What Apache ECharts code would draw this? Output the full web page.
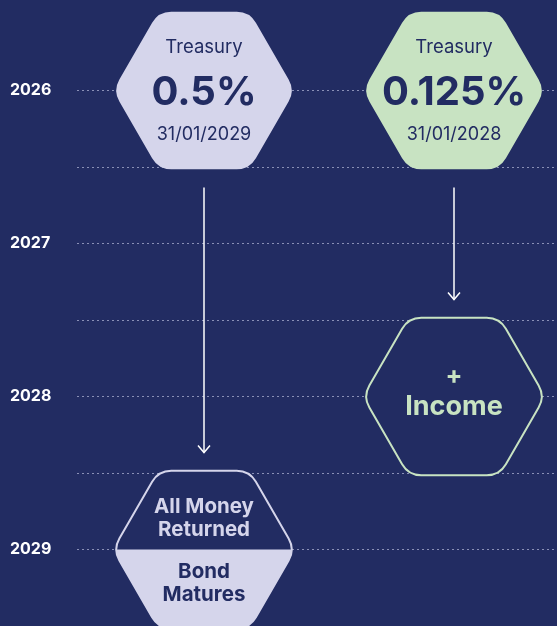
<!DOCTYPE html>
<html>
<head>
<meta charset="utf-8">
<script src="https://cdn.jsdelivr.net/npm/echarts@6/dist/echarts.min.js"></script>
<style>
  html, body { margin: 0; padding: 0; background: #222c62; }
  #chart { width: 557px; height: 626px; }
</style>
</head>
<body>
<div id="chart"></div>
<script>
// timeline data
const yearTicks = [2026, 2027, 2028, 2029];
const columns = [1, 2];
const bondNames = ["Treasury", "Treasury"];
const bondCoupons = ["0.5%", "0.125%"];
const bondMaturities = ["31/01/2029", "31/01/2028"];
const purchaseYears = [2026, 2026];
const outcomeYears = [2029, 2028];
const outcomeTop = [["All Money", "Returned"], ["+", "Income"]];
const outcomeBottom = [["Bond", "Matures"], []];

const NAVY = "#222c62";
const LAVENDER = "#d5d5eb";
const GREEN = "#c8e3c2";
const FONT = "Inter";
const R = 91;       // hexagon radius, px
const ROUND = 0.14; // corner rounding

function lerp(a, b, s) {
  return [a[0] + (b[0] - a[0]) * s, a[1] + (b[1] - a[1]) * s];
}

function hexPoints(cx, cy) {
  let V = [];
  for (let k = 0; k < 6; k++) {
    V.push([cx + R * Math.cos(k * Math.PI / 3), cy + R * Math.sin(k * Math.PI / 3)]);
  }
  let Pa = V.map((v, k) => lerp(v, V[(k + 5) % 6], ROUND));
  let Pb = V.map((v, k) => lerp(v, V[(k + 1) % 6], ROUND));
  return { V, Pa, Pb };
}

function pt(p) {
  return p[0].toFixed(2) + " " + p[1].toFixed(2);
}

function hexPath(cx, cy) {
  const { V, Pa, Pb } = hexPoints(cx, cy);
  let d = "M" + pt(Pb[0]);
  [1, 2, 3, 4, 5, 0].forEach(k => {
    d += " L" + pt(Pa[k]) + " Q" + pt(V[k]) + " " + pt(Pb[k]);
  });
  return d + " Z";
}

// lower half of the hexagon (below the horizontal centre line)
function lowerHalfPath(cx, cy) {
  const { V, Pa, Pb } = hexPoints(cx, cy);
  let mid0 = [0.25 * Pa[0][0] + 0.5 * V[0][0] + 0.25 * Pb[0][0], cy];
  let mid3 = [0.25 * Pa[3][0] + 0.5 * V[3][0] + 0.25 * Pb[3][0], cy];
  let d = "M" + pt(mid0) + " Q" + pt(lerp(V[0], Pb[0], 0.5)) + " " + pt(Pb[0]);
  [1, 2].forEach(k => {
    d += " L" + pt(Pa[k]) + " Q" + pt(V[k]) + " " + pt(Pb[k]);
  });
  d += " L" + pt(Pa[3]) + " Q" + pt(lerp(Pa[3], V[3], 0.5)) + " " + pt(mid3);
  return d + " Z";
}

function label(text, x, y, size, weight, color) {
  return {
    type: "text",
    x: x,
    y: y,
    style: {
      text: text,
      fill: color,
      fontSize: size,
      fontWeight: weight,
      fontFamily: FONT,
      align: "center",
      verticalAlign: "middle"
    }
  };
}

const chart = echarts.init(document.getElementById("chart"));

chart.setOption({
  backgroundColor: NAVY,
  animation: false,
  grid: { left: 77, right: 0, top: 14, bottom: -1 },
  xAxis: { type: "value", min: 0.492, max: 2.412, show: false },
  yAxis: {
    type: "value",
    inverse: true,
    min: 2025.5,
    max: 2029.5,
    interval: 0.5,
    axisLine: { show: false },
    axisTick: { show: false },
    axisLabel: {
      align: "left",
      margin: 67,
      color: "#ffffff",
      fontSize: 16,
      fontWeight: "bold",
      fontFamily: FONT,
      formatter: v => (yearTicks.indexOf(v) >= 0 ? String(v) : "")
    },
    splitLine: {
      show: true,
      showMinLine: false,
      showMaxLine: false,
      lineStyle: { color: "#8a90b6", width: 1, type: [2, 3] }
    }
  },
  series: [
    {
      name: "bonds",
      type: "custom",
      data: columns.map((c, i) => [c, purchaseYears[i]]),
      renderItem: function (params, api) {
        let i = params.dataIndex;
        let c = api.coord([api.value(0), api.value(1)]);
        return {
          type: "group",
          children: [
            { type: "path", shape: { pathData: hexPath(c[0], c[1]) }, style: { fill: i === 0 ? LAVENDER : GREEN } },
            label(bondNames[i], c[0], c[1] - 43, 18.5, "normal", NAVY),
            label(bondCoupons[i], c[0], c[1] + 2, 40, "bold", NAVY),
            label(bondMaturities[i], c[0], c[1] + 44, 18, "normal", NAVY)
          ]
        };
      }
    },
    {
      name: "arrows",
      type: "custom",
      data: columns.map((c, i) => [c, purchaseYears[i], outcomeYears[i]]),
      renderItem: function (params, api) {
        let p0 = api.coord([api.value(0), api.value(1)]);
        let p1 = api.coord([api.value(0), api.value(2)]);
        let x = p0[0];
        let y0 = p0[1] + 97;
        let y1 = p1[1] - 97;
        let st = { stroke: "#ffffff", lineWidth: 1.5, fill: null };
        return {
          type: "group",
          children: [
            { type: "line", shape: { x1: x, y1: y0, x2: x, y2: y1 }, style: st },
            { type: "polyline", shape: { points: [[x - 6, y1 - 7], [x, y1], [x + 6, y1 - 7]] }, style: st }
          ]
        };
      }
    },
    {
      name: "outcomes",
      type: "custom",
      data: columns.map((c, i) => [c, outcomeYears[i]]),
      renderItem: function (params, api) {
        let i = params.dataIndex;
        let c = api.coord([api.value(0), api.value(1)]);
        let kids = [];
        if (i === 0) {
          kids.push({ type: "path", shape: { pathData: hexPath(c[0], c[1]) }, style: { fill: NAVY, stroke: LAVENDER, lineWidth: 2 } });
          kids.push({ type: "path", shape: { pathData: lowerHalfPath(c[0], c[1]) }, style: { fill: LAVENDER } });
          kids.push(label(outcomeTop[i][0], c[0], c[1] - 43, 20.5, "bold", LAVENDER));
          kids.push(label(outcomeTop[i][1], c[0], c[1] - 20, 20.5, "bold", LAVENDER));
          kids.push(label(outcomeBottom[i][0], c[0], c[1] + 22, 20.5, "bold", NAVY));
          kids.push(label(outcomeBottom[i][1], c[0], c[1] + 45, 20.5, "bold", NAVY));
        } else {
          kids.push({ type: "path", shape: { pathData: hexPath(c[0], c[1]) }, style: { fill: NAVY, stroke: GREEN, lineWidth: 2 } });
          kids.push(label(outcomeTop[i][0], c[0], c[1] - 20, 25, "bold", GREEN));
          kids.push(label(outcomeTop[i][1], c[0], c[1] + 10, 27, "bold", GREEN));
        }
        return { type: "group", children: kids };
      }
    }
  ]
});
</script>
</body>
</html>
